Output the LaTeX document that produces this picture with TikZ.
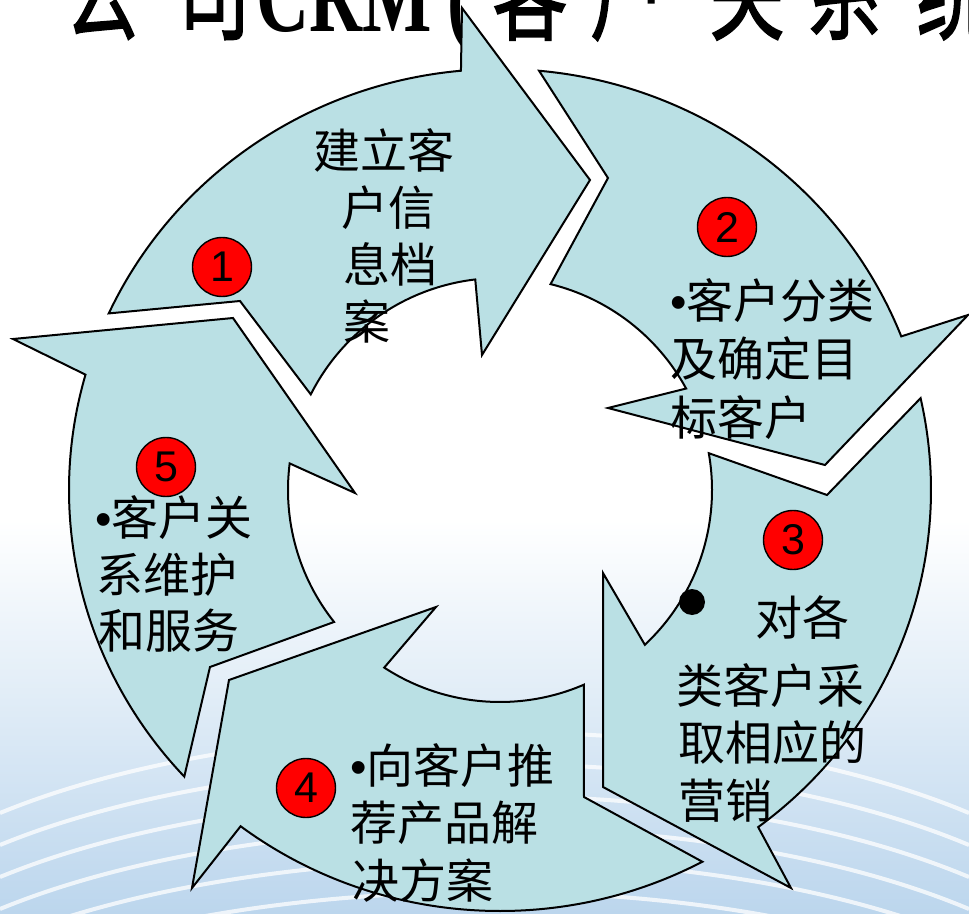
\documentclass[tikz,border=0pt]{standalone}
\usepackage{fontspec}
\usepackage{graphicx}
\setmainfont{Liberation Serif}
\newfontfamily\cjk{Noto Sans CJK SC}
\newfontfamily\cjktitle{Noto Sans CJK SC}[FakeBold=1.6]
\newfontfamily\lsans{Liberation Sans}
\definecolor{arrowfill}{RGB}{186,224,228}
\definecolor{bgblue}{RGB}{188,214,237}
\tikzset{
  cyclearrow/.style={fill=arrowfill, draw=black, line width=2pt, line join=miter},
  numdisc/.style={circle, fill=red, draw=black, line width=1.4pt, minimum size=59pt, inner sep=0pt, font=\lsans\fontsize{43}{43}\selectfont},
  bodytext/.style={anchor=base west, inner sep=0pt, font=\cjk\fontsize{47}{58}\selectfont},
  titleglyph/.style={anchor=base, inner sep=0pt},
  wave/.style={white, line width=4pt, opacity=0.75},
}
\newcommand{\tcjk}[1]{\scalebox{0.72}[1]{\cjktitle\fontsize{105}{105}\selectfont #1}}
\newcommand{\tlat}[1]{\scalebox{0.7}[1]{\bfseries\fontsize{105}{105}\selectfont #1}}
\begin{document}
\begin{tikzpicture}[x=1pt,y=1pt]
\useasboundingbox (-500,-423) rectangle (469,490);
\clip (-500,-423) rectangle (469,490);
% background
\fill[white] (-500,-423) rectangle (469,490);
\shade[top color=white, bottom color=bgblue] (-500,-423) rectangle (469,-30);
\foreach \d in {0,32,64,96,128,160}{
  \draw[wave] (-500,{-323-\d}) .. controls (-250,{-220-\d}) and (200,{-210-\d}) .. (469,{-323-\d});
}
% title
\node[titleglyph] (ti1) at (-398,458) {\tcjk{公}};
\node[titleglyph] (ti2) at (-287,458) {\tcjk{司}};
\node[titleglyph] (ti3) at (-156,458) {\tlat{CRM}};
\node[titleglyph] (ti4) at (-40,458) {\tlat{(}};
\node[titleglyph] (ti5) at (30,458) {\tcjk{客}};
\node[titleglyph] (ti6) at (128,458) {\tcjk{户}};
\node[titleglyph] (ti7) at (247,458) {\tcjk{关}};
\node[titleglyph] (ti8) at (344,458) {\tcjk{系}};
\node[titleglyph] (ti9) at (454,458) {\tcjk{统}};
% arrows
\path[cyclearrow] (155.2:431pt and 421pt) arc[start angle=155.2, end angle=95.2, x radius=431pt, y radius=421pt]
  -- (-38,482) -- (90,310) -- (-18,135) -- (96.7:212pt) arc[start angle=96.7, end angle=153.2, radius=212pt]
  -- (-260,189) -- cycle;
\path[cyclearrow] (84.8:431pt and 421pt) arc[start angle=84.8, end angle=21.4, x radius=431pt, y radius=421pt]
  -- (468,175) -- (325,25) -- (108,82) -- (28.6:212pt) arc[start angle=28.6, end angle=76.2, radius=212pt]
  -- (108,312) -- cycle;
\path[cyclearrow] (12.6:431pt and 421pt) arc[start angle=12.6, end angle=-53.2, x radius=431pt, y radius=421pt]
  -- (291,-398) -- (103,-297) -- (103,-83) -- (-46.9:212pt) arc[start angle=-46.9, end angle=10, radius=212pt]
  -- (327,-5) -- cycle;
\path[cyclearrow] (-62:431pt and 421pt) arc[start angle=-62, end angle=-127, x radius=431pt, y radius=421pt]
  -- (-308,-398) -- (-271,-190) -- (-64,-117) -- (-123.1:212pt) arc[start angle=-123.1, end angle=-66.7, radius=212pt]
  -- (84,-307) -- cycle;
\path[cyclearrow] (222.9:431pt and 421pt) arc[start angle=222.9, end angle=164.1, x radius=431pt, y radius=421pt]
  -- (-487,151) -- (-267,172) -- (-145,-3) -- (172.8:212pt) arc[start angle=172.8, end angle=218.5, radius=212pt]
  -- (-290,-177) -- cycle;
% number discs
\node[numdisc] (n1) at (-278,223) {1};
\node[numdisc] (n2) at (227,263) {2};
\node[numdisc] (n3) at (293,-50) {3};
\node[numdisc] (n4) at (-194,-298) {4};
\node[numdisc] (n5) at (-334,23) {5};
% texts
\node[bodytext] (t1a) at (-187,321) {建立客};
\node[bodytext] (t1b) at (-159,264) {户信};
\node[bodytext] (t1c) at (-157,207) {息档};
\node[bodytext] (t1d) at (-157,150) {案};
\node[bodytext] (t2a) at (170,171) {{\lsans •}客户分类};
\node[bodytext] (t2b) at (170,113) {及确定目};
\node[bodytext] (t2c) at (170,55) {标客户};
\node[circle, fill=black, minimum size=26pt, inner sep=0pt] (dot3) at (192,-112) {};
\node[bodytext] (t3a) at (255,-145) {对各};
\node[bodytext] (t3b) at (176,-213) {类客户采};
\node[bodytext] (t3c) at (178,-270) {取相应的};
\node[bodytext] (t3d) at (178,-328) {营销};
\node[bodytext] (t4a) at (-150,-293) {{\lsans •}向客户推};
\node[bodytext] (t4b) at (-150,-350) {荐产品解};
\node[bodytext] (t4c) at (-148,-408) {决方案};
\node[bodytext] (t5a) at (-405,-45) {{\lsans •}客户关};
\node[bodytext] (t5b) at (-404,-102) {系维护};
\node[bodytext] (t5c) at (-402,-158) {和服务};
\end{tikzpicture}
\end{document}
